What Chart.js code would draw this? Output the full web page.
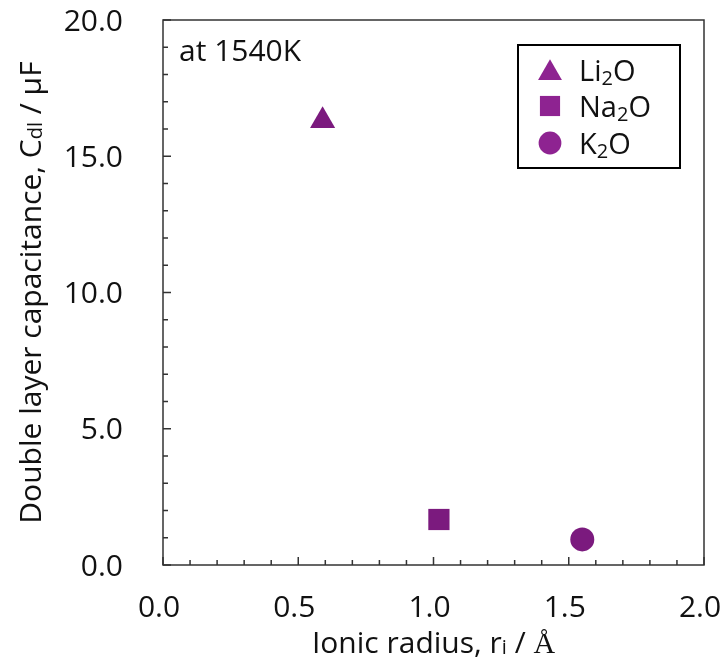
<!DOCTYPE html>
<html>
<head>
<title>Double layer capacitance vs ionic radius</title>
<script src="https://cdn.jsdelivr.net/npm/chart.js"></script>
<style>
  body { margin: 0; background: #fff; }
</style>
</head>
<body>
<canvas id="capChart" width="725" height="670"></canvas>
<script>
// data
const seriesNames = ['Li2O', 'Na2O', 'K2O'];
const ionicRadius = [0.59, 1.02, 1.55];
const capacitance = [16.3, 1.67, 0.94];
const xTicks = [0.0, 0.5, 1.0, 1.5, 2.0];
const yTicks = [0.0, 5.0, 10.0, 15.0, 20.0];
const noteText = 'at 1540K';

const markers = ['triangle', 'rect', 'circle'];
const markerRadius = [14.5, 15, 12];
const purple = '#7b1a7e';
const legendPurple = '#8e2391';
const FONT = "'Open Sans', sans-serif";
const SERIF = "'Liberation Serif', serif";

// split "Li2O" into normal / subscript pieces
function formulaParts(str) {
  return str.split(/(\d+)/).filter(s => s).map(s => ({ t: s, sub: /^\d+$/.test(s) }));
}

function partFont(p, size) {
  const s = p.sub ? Math.round(size * 0.68) : size;
  return s + 'px ' + (p.serif ? SERIF : FONT);
}

function drawRich(ctx, parts, x, y, size, align) {
  const widths = parts.map(p => { ctx.font = partFont(p, size); return ctx.measureText(p.t).width; });
  const total = widths.reduce((a, b) => a + b, 0);
  let cx = align === 'center' ? x - total / 2 : x;
  ctx.textAlign = 'left';
  ctx.textBaseline = 'alphabetic';
  parts.forEach((p, i) => {
    ctx.font = partFont(p, size);
    ctx.fillText(p.t, cx, y + (p.sub ? size * (p.drop || 0.15) : 0));
    cx += widths[i];
  });
}

const framePlugin = {
  id: 'frame',
  afterDraw(chart) {
    const ctx = chart.ctx;
    const a = chart.chartArea;
    const xs = chart.scales.x, ys = chart.scales.y;
    ctx.save();
    ctx.strokeStyle = '#333';
    ctx.lineWidth = 1.5;
    ctx.strokeRect(a.left, a.top, a.right - a.left, a.bottom - a.top);

    // inward ticks, minor every 0.1 / 1.0
    ctx.beginPath();
    for (let i = 0; i <= 20; i++) {
      const px = xs.getPixelForValue(i / 10);
      const len = i % 5 === 0 ? 8 : 5;
      ctx.moveTo(px, a.bottom);
      ctx.lineTo(px, a.bottom - len);
      const py = ys.getPixelForValue(i);
      ctx.moveTo(a.left, py);
      ctx.lineTo(a.left + len, py);
    }
    ctx.stroke();

    ctx.fillStyle = '#111';
    // note
    drawRich(ctx, [{ t: noteText }], 179, 61, 30, 'left');

    // axis titles
    drawRich(ctx, [
      { t: 'Ionic radius, r' }, { t: 'i', sub: true, drop: 0.02 },
      { t: ' / ' }, { t: 'Å', serif: true }
    ], (a.left + a.right) / 2, 653, 30, 'center');

    ctx.save();
    ctx.translate(41, (a.top + a.bottom) / 2);
    ctx.rotate(-Math.PI / 2);
    drawRich(ctx, [
      { t: 'Double layer capacitance, C' }, { t: 'dl', sub: true, drop: 0.02 },
      { t: ' / μF' }
    ], 0, 0, 30, 'center');
    ctx.restore();

    // legend box
    ctx.strokeStyle = '#000';
    ctx.lineWidth = 2;
    ctx.strokeRect(518, 45, 162, 123);
    const rowY = [70, 106, 143];
    seriesNames.forEach((name, i) => {
      ctx.fillStyle = legendPurple;
      Chart.helpers.drawPoint(ctx, {
        pointStyle: markers[i], radius: markerRadius[i] * 0.95, rotation: 0, borderWidth: 0
      }, 550, rowY[i] + (markers[i] === 'triangle' ? 3 : 0));
      ctx.fillStyle = '#111';
      drawRich(ctx, formulaParts(name), 579, rowY[i] + 11, 29, 'left');
    });
    ctx.restore();
  }
};

function fixedAxis(scale) {
  scale.paddingTop = 0; scale.paddingBottom = 0;
  scale.paddingLeft = 0; scale.paddingRight = 0;
}

new Chart(document.getElementById('capChart'), {
  type: 'scatter',
  data: {
    datasets: seriesNames.map((name, i) => ({
      label: name,
      data: [{ x: ionicRadius[i], y: capacitance[i] }],
      pointStyle: markers[i],
      pointRadius: markerRadius[i],
      pointHoverRadius: markerRadius[i],
      backgroundColor: purple,
      borderColor: purple,
      borderWidth: 0
    }))
  },
  options: {
    responsive: false,
    devicePixelRatio: 1,
    animation: false,
    layout: { padding: { left: 0, right: 21, top: 20, bottom: 0 } },
    plugins: { legend: { display: false }, tooltip: { enabled: false } },
    scales: {
      x: {
        type: 'linear', min: 0, max: 2,
        afterBuildTicks: s => { s.ticks = xTicks.map(v => ({ value: v })); },
        afterFit: s => { s.height = 105; fixedAxis(s); },
        grid: { display: false },
        border: { display: false },
        ticks: { color: '#111', font: { family: FONT, size: 30 }, padding: 17, labelOffset: -4,
                 maxRotation: 0, autoSkip: false, callback: v => v.toFixed(1) }
      },
      y: {
        type: 'linear', min: 0, max: 20,
        afterBuildTicks: s => { s.ticks = yTicks.map(v => ({ value: v })); },
        afterFit: s => { s.width = 163; fixedAxis(s); },
        grid: { display: false },
        border: { display: false },
        ticks: { color: '#111', font: { family: FONT, size: 30 }, padding: 32, labelOffset: 2,
                 autoSkip: false, callback: v => v.toFixed(1) }
      }
    }
  },
  plugins: [framePlugin]
});
</script>
</body>
</html>
